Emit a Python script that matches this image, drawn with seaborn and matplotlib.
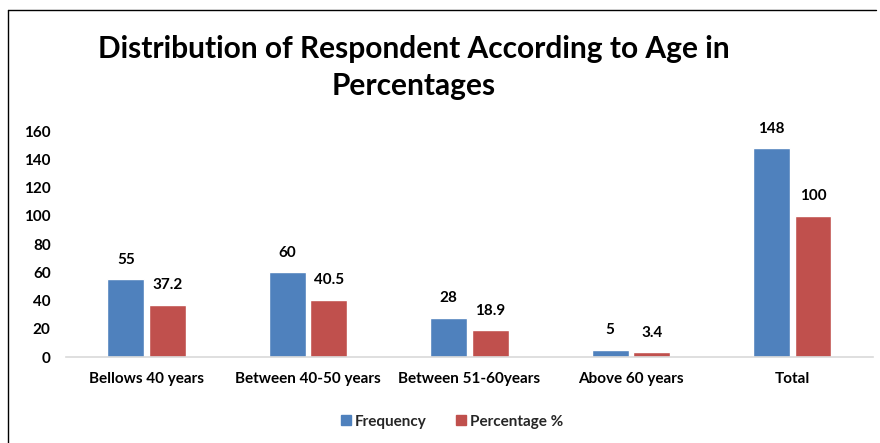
import matplotlib
matplotlib.use("Agg")
import matplotlib.pyplot as plt
import seaborn as sns
import pandas as pd
from matplotlib.lines import Line2D

categories = ["Bellows 40 years", "Between 40-50 years", "Between 51-60years",
              "Above 60 years", "Total"]
frequency = [55, 60, 28, 5, 148]
percentage = [37.2, 40.5, 18.9, 3.4, 100]
series_names = ["Frequency", "Percentage %"]
y_ticks = [0, 20, 40, 60, 80, 100, 120, 140, 160]
title = "Distribution of Respondent According to Age in\nPercentages"

colors = ["#4F81BD", "#C0504D"]

df = pd.DataFrame({
    "category": categories * 2,
    "series": [series_names[0]] * len(categories) + [series_names[1]] * len(categories),
    "value": frequency + percentage,
})

sns.set_theme(style="white")
plt.rcParams["font.family"] = ["Lato", "DejaVu Sans"]
plt.rcParams["font.weight"] = "bold"

fig = plt.figure(figsize=(8.8, 4.43), dpi=100)
ax = fig.add_axes([0.075, 0.194, 0.917, 0.510])

sns.barplot(data=df, x="category", y="value", hue="series", order=categories,
            hue_order=series_names, palette=colors, width=0.514, gap=0.11,
            saturation=1, legend=False, ax=ax)

ax.set_ylim(0, 160)
ax.set_xlim(-0.5, len(categories) - 0.5)
ax.set_yticks(y_ticks)
ax.set_yticklabels([str(t) for t in y_ticks])
ax.tick_params(axis="y", length=0, pad=11, labelsize=11, labelcolor="#000000")
ax.tick_params(axis="x", length=0, pad=11, labelsize=11, labelcolor="#000000")
ax.set_xlabel("")
ax.set_ylabel("")
for side in ["top", "right", "left"]:
    ax.spines[side].set_visible(False)
ax.spines["bottom"].set_color("#D9D9D9")
ax.spines["bottom"].set_linewidth(1.2)

for container, vals in zip(ax.containers, [frequency, percentage]):
    ax.bar_label(container, labels=[f"{v:g}" for v in vals], padding=9,
                 fontsize=11, fontweight="bold", color="#000000")

fig.text(0.470, 0.848, title, ha="center", va="center", fontsize=21.5,
         fontweight="bold", linespacing=1.4, color="#000000")

handles = [Line2D([], [], marker="s", linestyle="", markersize=7,
                  markerfacecolor=c, markeredgecolor=c) for c in colors]
fig.legend(handles, series_names, loc="center", bbox_to_anchor=(0.512, 0.048),
           ncol=2, frameon=False, prop={"size": 11, "weight": "bold"},
           handletextpad=0.1, columnspacing=1.75, handlelength=1.0)

# thin frame lines along the top and left edges
fig.add_artist(Line2D([8 / 880, 876 / 880], [1 - 10 / 443, 1 - 10 / 443],
                      transform=fig.transFigure, color="#000000", lw=1.0))
fig.add_artist(Line2D([8 / 880, 8 / 880], [0, 1 - 10 / 443],
                      transform=fig.transFigure, color="#000000", lw=1.0))

fig.savefig("out.png", dpi=100, facecolor="white")
